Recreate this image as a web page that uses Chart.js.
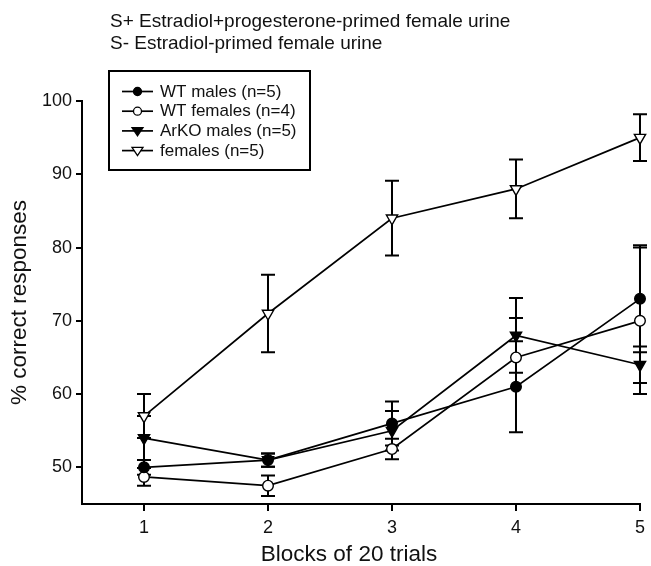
<!DOCTYPE html>
<html>
<head>
<meta charset="utf-8">
<title>Blocks of 20 trials</title>
<script src="https://cdn.jsdelivr.net/npm/chart.js@4.4.1/dist/chart.umd.min.js"></script>
<style>
    html, body { margin: 0; padding: 0; background: #fff; }
    #wrap { width: 651px; height: 566px; position: relative; }
</style>
</head>
<body>
<div id="wrap"><canvas id="plot"></canvas></div>
<script>
// ===============================================
// Data
// ===============================================
const blocks = [1, 2, 3, 4, 5];
const xTicks = [1, 2, 3, 4, 5];
const yTicks = [50, 60, 70, 80, 90, 100];

const wtMales        = [50, 51, 56, 61, 73];
const wtMalesErr     = [1, 0.9, 3, 6.2, 7.3];
const wtFemales      = [48.7, 47.5, 52.5, 65, 70];
const wtFemalesErr   = [1.2, 1.4, 1.4, 5.4, 10];
const wtFemalesErrLo = [1.2, 1.4, 1.4, 0, 10];   // lower bar not drawn at block 4
const arkoMales      = [54, 51, 55, 68, 64];
const arkoMalesErr   = [3, 0.9, 2.7, 5.1, 2.5];
const females        = [57, 71, 84, 88, 95];
const femalesErr     = [3, 5.3, 5.1, 4, 3.2];

const headerLines = [
    'S+ Estradiol+progesterone-primed female urine',
    'S- Estradiol-primed female urine'
];
const FONT = '"Liberation Sans", Arial, sans-serif';
const INK = '#000';
const TXT = '#111';

// ===============================================
// Series definitions
// ===============================================
function toPoints(vals) {
    return blocks.map((b, i) => ({ x: b, y: vals[i] }));
}

const series = [
    { label: 'WT males (n=5)',   vals: wtMales,   err: wtMalesErr,   errLo: wtMalesErr,     shape: 'circle',   filled: true },
    { label: 'WT females (n=4)', vals: wtFemales, err: wtFemalesErr, errLo: wtFemalesErrLo, shape: 'circle',   filled: false },
    { label: 'ArKO males (n=5)', vals: arkoMales, err: arkoMalesErr, errLo: arkoMalesErr,   shape: 'triangle', filled: true },
    { label: 'females (n=5)',    vals: females,   err: femalesErr,   errLo: femalesErr,     shape: 'triangle', filled: false }
];

const datasets = series.map(s => ({
    label: s.label,
    data: toPoints(s.vals),
    borderColor: INK,
    borderWidth: 1.7,
    backgroundColor: s.filled ? INK : '#fff',
    pointStyle: s.shape,
    pointRotation: s.shape === 'triangle' ? 180 : 0,
    pointRadius: s.shape === 'triangle' ? 6.5 : 5.3,
    pointBorderColor: INK,
    pointBorderWidth: 1.4,
    pointBackgroundColor: s.filled ? INK : '#fff',
    showLine: true,
    tension: 0,
    clip: false
}));

// ===============================================
// Plugins: error bars, header, legend, x title
// ===============================================
const errorBars = {
    id: 'errorBars',
    beforeDatasetsDraw(chart) {
        const { ctx, scales: { x, y } } = chart;
        ctx.save();
        ctx.strokeStyle = INK;
        ctx.lineWidth = 2;
        series.forEach(s => {
            s.vals.forEach((v, i) => {
                const px = x.getPixelForValue(blocks[i]);
                const mid = y.getPixelForValue(v);
                const top = y.getPixelForValue(v + s.err[i]);
                ctx.beginPath();
                ctx.moveTo(px, mid); ctx.lineTo(px, top);
                ctx.moveTo(px - 7, top); ctx.lineTo(px + 7, top);
                if (s.errLo[i] > 0) {
                    const bot = y.getPixelForValue(v - s.errLo[i]);
                    ctx.moveTo(px, mid); ctx.lineTo(px, bot);
                    ctx.moveTo(px - 7, bot); ctx.lineTo(px + 7, bot);
                }
                ctx.stroke();
            });
        });
        ctx.restore();
    }
};

function drawMarker(ctx, s, cx, cy, r) {
    ctx.beginPath();
    if (s.shape === 'circle') {
        ctx.arc(cx, cy, r, 0, Math.PI * 2);
    } else {
        ctx.moveTo(cx - r, cy - r * 0.6);
        ctx.lineTo(cx + r, cy - r * 0.6);
        ctx.lineTo(cx, cy + r * 0.9);
        ctx.closePath();
    }
    ctx.fillStyle = s.filled ? INK : '#fff';
    ctx.fill();
    ctx.lineWidth = 1.3;
    ctx.strokeStyle = INK;
    ctx.stroke();
}

const annotations = {
    id: 'annotations',
    afterDraw(chart) {
        const { ctx } = chart;
        ctx.save();
        ctx.fillStyle = TXT;
        ctx.textBaseline = 'middle';
        ctx.textAlign = 'left';

        // header
        ctx.font = '19px ' + FONT;
        headerLines.forEach((t, i) => ctx.fillText(t, 110, 22 + i * 22));

        // legend box
        ctx.strokeStyle = INK;
        ctx.lineWidth = 2;
        ctx.strokeRect(109, 71, 201, 99);
        ctx.font = '17px ' + FONT;
        series.forEach((s, i) => {
            const yy = 91.5 + i * 19.7;
            ctx.beginPath();
            ctx.moveTo(122, yy); ctx.lineTo(153, yy);
            ctx.lineWidth = 1.7;
            ctx.strokeStyle = INK;
            ctx.stroke();
            drawMarker(ctx, s, 137.5, yy, s.shape === 'circle' ? 4 : 5.5);
            ctx.fillStyle = TXT;
            ctx.fillText(s.label, 160, yy + 0.5);
        });

        // x axis title
        ctx.font = '22.5px ' + FONT;
        ctx.textAlign = 'center';
        ctx.fillText('Blocks of 20 trials', 349, 555);
        ctx.restore();
    }
};

// ===============================================
// Chart
// ===============================================
const ctx = document.getElementById('plot').getContext('2d');
new Chart(ctx, {
    type: 'scatter',
    data: { datasets: datasets },
    options: {
        responsive: true,
        maintainAspectRatio: false,
        animation: false,
        layout: { padding: { top: 101, right: 8, left: 0, bottom: 0 } },
        plugins: {
            legend: { display: false },
            tooltip: { enabled: false }
        },
        scales: {
            x: {
                type: 'linear',
                min: 0.5,
                max: 5,
                afterBuildTicks: scale => { scale.ticks = xTicks.map(v => ({ value: v })); },
                afterFit: scale => { scale.height = 62; },
                grid: { display: true, drawOnChartArea: false, drawTicks: true, tickLength: 7, color: INK, lineWidth: 2 },
                border: { display: true, color: INK, width: 2 },
                ticks: { color: TXT, padding: 6, font: { family: FONT, size: 18 } }
            },
            y: {
                type: 'linear',
                min: 45,
                max: 100,
                afterBuildTicks: scale => { scale.ticks = yTicks.map(v => ({ value: v })); },
                afterFit: scale => { scale.width = 82; },
                grid: { display: true, drawOnChartArea: false, drawTicks: true, tickLength: 6, color: INK, lineWidth: 2 },
                border: { display: true, color: INK, width: 2 },
                ticks: { color: TXT, padding: 4, font: { family: FONT, size: 18 } },
                title: {
                    display: true,
                    text: '% correct responses',
                    color: TXT,
                    padding: { top: 6, bottom: 0 },
                    font: { family: FONT, size: 22.5 }
                }
            }
        }
    },
    plugins: [errorBars, annotations]
});
</script>
</body>
</html>
